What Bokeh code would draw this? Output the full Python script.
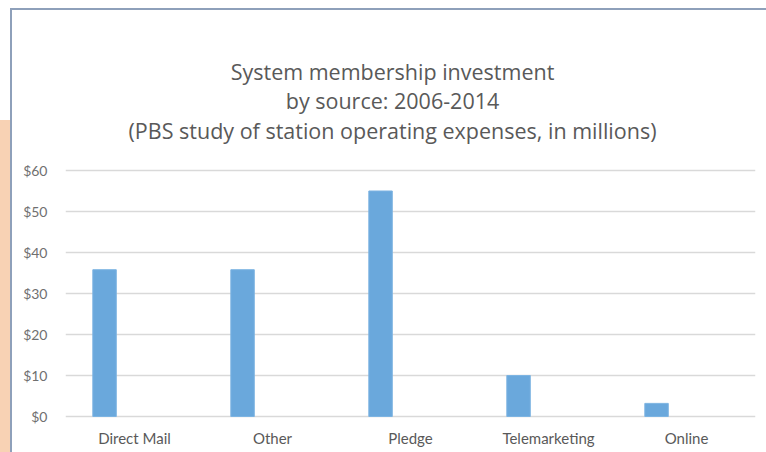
from bokeh.plotting import figure
from bokeh.models import FactorRange, Range1d, FixedTicker, Label, ColumnDataSource
from bokeh.transform import dodge
from bokeh.embed import file_html
from bokeh.resources import INLINE

# ---- data ----
categories = ["Direct Mail", "Other", "Pledge", "Telemarketing", "Online"]
investment = [35.8, 35.8, 55.0, 10.0, 3.2]
y_ticks = [0, 10, 20, 30, 40, 50, 60]
y_tick_labels = ["$0", "$10", "$20", "$30", "$40", "$50", "$60"]
title_lines = [
    "System membership investment",
    "by source: 2006-2014",
    "(PBS study of station operating expenses, in millions)",
]

FONT = "Lato"
TITLE_FONT = "Open Sans"
W, H = 766, 452

src = ColumnDataSource(dict(cat=categories, val=investment))

p = figure(width=W, height=H, title=None,
           x_range=FactorRange(*categories, range_padding=0),
           y_range=Range1d(-0.976, 91.707),
           output_backend="svg", toolbar_location=None,
           min_border_left=65, min_border_right=11,
           min_border_top=40, min_border_bottom=32)
p.outline_line_color = None
p.background_fill_color = "white"
p.border_fill_color = None
p.styles = {
    "background": (
        "linear-gradient(#8EA0BA,#8EA0BA) 10px 8px / 2px 444px no-repeat, "
        "linear-gradient(#8EA0BA,#8EA0BA) 10px 8px / 756px 2px no-repeat, "
        "linear-gradient(#F8D2B4,#F8D2B4) 0px 120px / 10px 332px no-repeat, "
        "#ffffff"
    )
}

p.vbar(x=dodge("cat", -0.217, range=p.x_range), top="val", bottom=0, width=0.17,
       source=src, fill_color="#6AA8DC", line_color="#7DB4E2", line_width=1)

p.xgrid.grid_line_color = None
p.ygrid.grid_line_color = "#D9D9D9"
p.ygrid.grid_line_width = 1.3

p.yaxis.ticker = FixedTicker(ticks=y_ticks)
p.yaxis.major_label_overrides = {t: l for t, l in zip(y_ticks, y_tick_labels)}
for ax in (p.xaxis[0], p.yaxis[0]):
    ax.axis_line_color = None
    ax.major_tick_line_color = None
    ax.minor_tick_line_color = None
    ax.major_tick_out = 0
    ax.major_tick_in = 0
    ax.minor_tick_out = 0
    ax.minor_tick_in = 0
    ax.major_label_text_font = FONT
p.yaxis.major_label_text_font_size = "14px"
p.xaxis.major_label_text_font_size = "15px"
p.yaxis.major_label_text_color = "#707070"
p.yaxis.major_label_standoff = 18
p.xaxis.major_label_text_color = "#595959"
p.xaxis.major_label_standoff = 8

# title lines (frame-relative screen coords)
for txt, yy in zip(title_lines, [349, 320, 290]):
    p.add_layout(Label(x=327, y=yy, x_units="screen", y_units="screen", text=txt,
                       text_align="center", text_baseline="alphabetic",
                       text_font=TITLE_FONT, text_font_size="21.5px",
                       text_color="#595959"))

open("out.html", "w").write(file_html(p, INLINE))
